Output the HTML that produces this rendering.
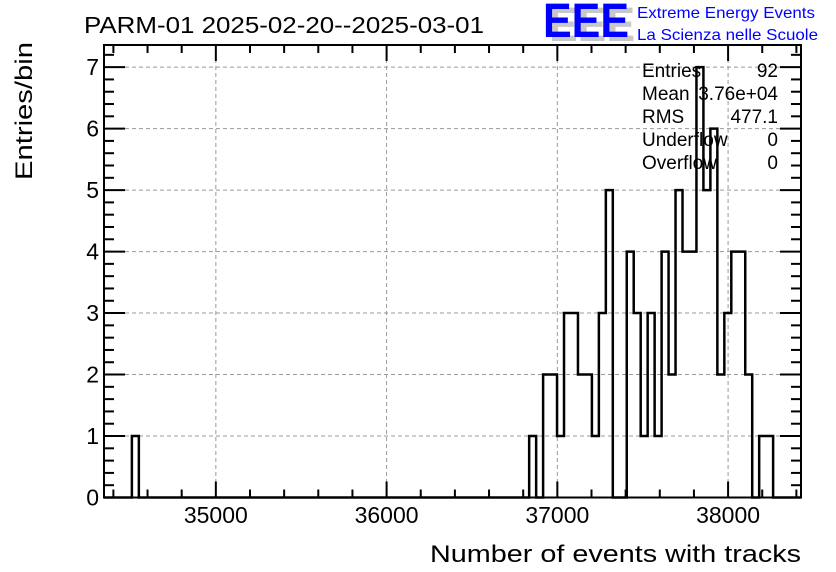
<!DOCTYPE html>
<html><head><meta charset="utf-8"><style>
html,body{margin:0;padding:0;background:#fff;}
svg{display:block;font-family:"Liberation Sans",Arial,sans-serif;}
</style></head><body>
<svg id="c" width="836" height="572" viewBox="0 0 836 572">
<rect x="0" y="0" width="836" height="572" fill="#fff"/>
<text x="84" y="33" font-size="23" fill="#000" textLength="400" lengthAdjust="spacingAndGlyphs">PARM-01 2025-02-20--2025-03-01</text>
<g>
<text x="549" y="41" font-size="48" font-weight="bold" fill="#c8c8c8" textLength="86" lengthAdjust="spacingAndGlyphs">EEE</text>
<text x="543" y="37" font-size="48" font-weight="bold" fill="#0000ff" textLength="86" lengthAdjust="spacingAndGlyphs">EEE</text>
<text x="637" y="18" font-size="16" fill="#0000ff" textLength="178" lengthAdjust="spacingAndGlyphs">Extreme Energy Events</text>
<text x="637" y="40" font-size="16" fill="#0000ff" textLength="181" lengthAdjust="spacingAndGlyphs">La Scienza nelle Scuole</text>
</g>
<g id="grid"></g>
<g id="bars"></g>
<g id="axes"></g>
<g font-size="19" fill="#000">
<text x="642" y="77">Entries</text><text x="778" y="77" text-anchor="end">92</text>
<text x="642" y="100">Mean</text><text x="778" y="100" text-anchor="end">3.76e+04</text>
<text x="642" y="123">RMS</text><text x="778" y="123" text-anchor="end">477.1</text>
<text x="642" y="146">Underflow</text><text x="778" y="146" text-anchor="end">0</text>
<text x="642" y="169">Overflow</text><text x="778" y="169" text-anchor="end">0</text>
</g>
<text x="801" y="562" font-size="24" text-anchor="end" textLength="371" lengthAdjust="spacingAndGlyphs">Number of events with tracks</text>
<text transform="translate(32,180) rotate(-90)" font-size="24" text-anchor="start" textLength="138" lengthAdjust="spacingAndGlyphs">Entries/bin</text>
</svg>
<script>
const xMin = 34345, xMax = 38427, nBins = 100;
const yMax = 7.36;
const counts = [0,0,0,0,1,0,0,0,0,0,0,0,0,0,0,0,0,0,0,0,0,0,0,0,0,0,0,0,0,0,0,0,0,0,0,0,0,0,0,0,0,0,0,0,0,0,0,0,0,0,0,0,0,0,0,0,0,0,0,0,0,1,0,2,2,1,3,3,2,2,1,3,5,0,0,4,3,1,3,1,4,2,5,4,4,7,5,6,2,3,4,4,2,0,1,1,0,0,0,0];
const xTicks = [35000,36000,37000,38000];
const xTickLabels = ["35000","36000","37000","38000"];
const yTicks = [0,1,2,3,4,5,6,7];
const yTickLabels = ["0","1","2","3","4","5","6","7"];
const L=104,R=801,T=45,B=497.5;
const NS="http://www.w3.org/2000/svg";
function X(v){return L+(v-xMin)/(xMax-xMin)*(R-L);}
function Y(v){return B-v/yMax*(B-T);}
function mk(tag,attrs,parent){const e=document.createElementNS(NS,tag);for(const k in attrs)e.setAttribute(k,attrs[k]);parent.appendChild(e);return e;}
const grid=document.getElementById('grid'),bars=document.getElementById('bars'),axes=document.getElementById('axes');
xTicks.forEach(v=>{const g=mk('line',{x1:X(v),x2:X(v),y1:T,y2:B,stroke:'#999','stroke-dasharray':'4,3','stroke-width':1},grid);

});
yTicks.slice(1).forEach(v=>{const g=mk('line',{x1:L,x2:R,y1:Y(v),y2:Y(v),stroke:'#999','stroke-dasharray':'4,3','stroke-width':1},grid);

});
const bw=(xMax-xMin)/nBins;
let d='M'+X(xMin)+','+Y(0);
for(let i=0;i<nBins;i++){const x0=X(xMin+i*bw),x1=X(xMin+(i+1)*bw),y=Y(counts[i]);d+=' L'+x0+','+y+' L'+x1+','+y;}
d+=' L'+X(xMax)+','+Y(0);
const p=mk('path',{d:d,fill:'none',stroke:'#000','stroke-width':2.5,'stroke-linejoin':'miter'},bars);


const f=mk('rect',{x:L,y:T,width:R-L,height:B-T,fill:'none',stroke:'#000','stroke-width':2},axes);


for(let v=34400;v<=xMax;v+=200){const major=v%1000===0;const len=major?16:8;
const t1=mk('line',{x1:X(v),x2:X(v),y1:B,y2:B-len,stroke:'#000','stroke-width':2},axes);


const t2=mk('line',{x1:X(v),x2:X(v),y1:T,y2:T+len,stroke:'#000','stroke-width':2},axes);

}
xTicks.forEach((v,i)=>{const t=mk('text',{x:X(v),y:523,'font-size':23,'text-anchor':'middle'},axes);t.textContent=xTickLabels[i];

});
for(let v=0;v<=yMax+1e-9;v+=0.2){const major=Math.abs(v-Math.round(v))<1e-6;const len=major?21:10;
const t1=mk('line',{x1:L,x2:L+len,y1:Y(v),y2:Y(v),stroke:'#000','stroke-width':2},axes);


const t2=mk('line',{x1:R,x2:R-len,y1:Y(v),y2:Y(v),stroke:'#000','stroke-width':2},axes);

}
yTicks.forEach((v,i)=>{const t=mk('text',{x:99,y:Y(v)+8,'font-size':23,'text-anchor':'end'},axes);t.textContent=yTickLabels[i];

});
</script>
</body></html>
